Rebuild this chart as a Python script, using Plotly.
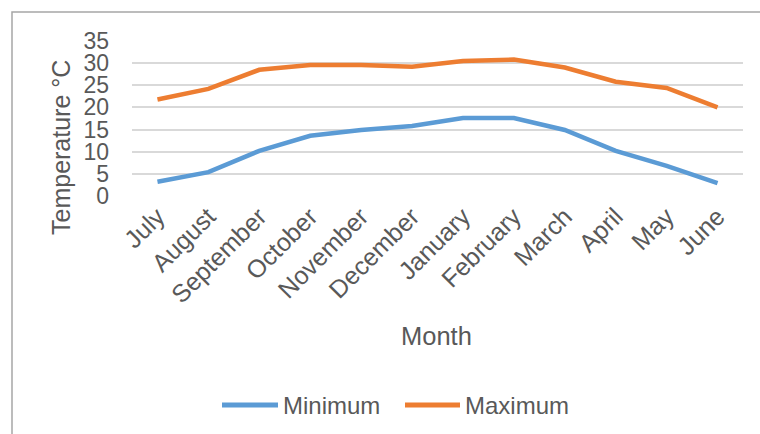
import plotly.graph_objects as go

# Monthly temperature (°C), July through June
months = ["July", "August", "September", "October", "November", "December",
          "January", "February", "March", "April", "May", "June"]
minimum = [3.2, 5.4, 10.2, 13.6, 14.9, 15.8, 17.6, 17.6, 14.9, 10.2, 6.8, 2.9]
maximum = [21.8, 24.2, 28.5, 29.6, 29.6, 29.2, 30.5, 30.8, 29.0, 25.8, 24.4, 20.0]
y_ticks = [0, 5, 10, 15, 20, 25, 30, 35]
series_names = ["Minimum", "Maximum"]
series_colors = ["#5B9BD5", "#ED7D31"]

W, H = 760, 434
ML, MR, MT, MB = 132, 17, 41, 238
PW, PH = W - ML - MR, H - MT - MB

FONT = "Liberation Sans, Arial, sans-serif"
TXT = "#595959"


def px_x(px):
    return (px - ML) / PW


def px_y(py):
    return (H - MB - py) / PH


fig = go.Figure()
for name, color, vals in zip(series_names, series_colors, [minimum, maximum]):
    fig.add_trace(go.Scatter(x=months, y=vals, name=name, mode="lines",
                             line=dict(color=color, width=4.5),
                             showlegend=False))

# Legend drawn as line swatches with labels beside them
legend_y = 405
legend_items = [(222, 278, 281), (405, 460, 463)]
shapes = [dict(type="rect", xref="paper", yref="paper",
               x0=px_x(12), x1=px_x(W + 20), y0=px_y(H + 20), y1=px_y(12),
               line=dict(color="#A6A6A6", width=1.5), layer="below")]
annotations = [
    dict(text="Month", xref="paper", yref="paper", x=px_x(436),
         y=px_y(336), xanchor="center", yanchor="middle",
         showarrow=False, font=dict(size=25.5, color=TXT)),
    dict(text="Temperature °C", xref="paper", yref="paper", x=px_x(61),
         y=px_y(148), xanchor="center", yanchor="middle", textangle=-90,
         showarrow=False, font=dict(size=25, color=TXT)),
]
for (x0, x1, xt), name, color in zip(legend_items, series_names, series_colors):
    shapes.append(dict(type="line", xref="paper", yref="paper",
                       x0=px_x(x0), x1=px_x(x1), y0=px_y(legend_y),
                       y1=px_y(legend_y), line=dict(color=color, width=5)))
    annotations.append(dict(text=name, xref="paper", yref="paper",
                            x=px_x(xt), y=px_y(legend_y), xanchor="left",
                            yanchor="middle", showarrow=False,
                            font=dict(size=24, color=TXT)))

fig.update_layout(
    width=W, height=H,
    margin=dict(l=ML, r=MR, t=MT, b=MB, autoexpand=False),
    paper_bgcolor="white", plot_bgcolor="white",
    font=dict(family=FONT, color=TXT, size=22),
    showlegend=False,
    xaxis=dict(range=[-0.5, 11.5], tickangle=-45, showgrid=False,
               showline=False, zeroline=False, ticks="",
               tickfont=dict(size=25, color=TXT)),
    yaxis=dict(range=[0, 35], tickvals=y_ticks, showgrid=True,
               gridcolor="#D9D9D9", gridwidth=1.5, zeroline=False,
               showline=False, ticks="", ticklabelstandoff=22,
               tickfont=dict(size=23, color=TXT)),
    shapes=shapes,
    annotations=annotations,
)

fig.write_html("out.html")
